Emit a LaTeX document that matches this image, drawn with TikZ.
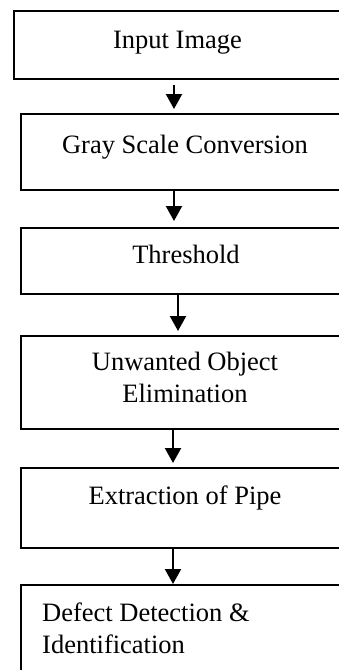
\documentclass[tikz,border=0pt]{standalone}
\usepackage{fontspec}
\setmainfont{Liberation Serif}
\usetikzlibrary{arrows.meta,calc}
\tikzset{
  stepbox/.style={draw=black, line width=1.6pt, rectangle, anchor=north west, inner sep=0pt},
  lbl/.style={anchor=base, inner sep=0pt, font=\fontsize{26.5}{32}\selectfont, align=center},
  arr/.style={line width=2.2pt, -{Triangle[width=16pt,length=15pt]}}
}
\begin{document}
\begin{tikzpicture}[x=1pt,y=-1pt]
\useasboundingbox (0,0) rectangle (339,670);
\clip (0,0) rectangle (339,670);
\fill[white] (0,0) rectangle (339,670);
% boxes
\node[stepbox, minimum width=329pt, minimum height=68pt] (b1) at (13,10) {};
\node[stepbox, minimum width=331pt, minimum height=76pt] (b2) at (20,113) {};
\node[stepbox, minimum width=331pt, minimum height=66pt] (b3) at (20,227) {};
\node[stepbox, minimum width=331pt, minimum height=93pt] (b4) at (20,335) {};
\node[stepbox, minimum width=331pt, minimum height=80pt] (b5) at (20,467) {};
\node[stepbox, minimum width=331pt, minimum height=120pt] (b6) at (20,584) {};
% labels
\node[lbl] (t1) at (177.5,48) {Input Image};
\node[lbl] (t2) at (185,153) {Gray Scale Conversion};
\node[lbl] (t3) at (186,263) {Threshold};
\node[lbl] (t4) at (185,402) {Unwanted Object\\Elimination};
\node[lbl] (t5) at (185,504) {Extraction of Pipe};
\node[lbl, anchor=base west, align=left] (t6) at (42,653) {Defect Detection \&\\Identification};
% arrows
\draw[arr] ($(b1.south west)+(161,5)$) -- ($(b2.north west)+(154,-4)$);
\draw[arr] ($(b2.south west)+(154,0)$) -- ($(b3.north west)+(154,-6)$);
\draw[arr] ($(b3.south west)+(158,0)$) -- ($(b4.north west)+(158,-4)$);
\draw[arr] ($(b4.south west)+(153,0)$) -- ($(b5.north west)+(153,-4)$);
\draw[arr] ($(b5.south west)+(153,0)$) -- ($(b6.north west)+(153,0)$);
\end{tikzpicture}
\end{document}
